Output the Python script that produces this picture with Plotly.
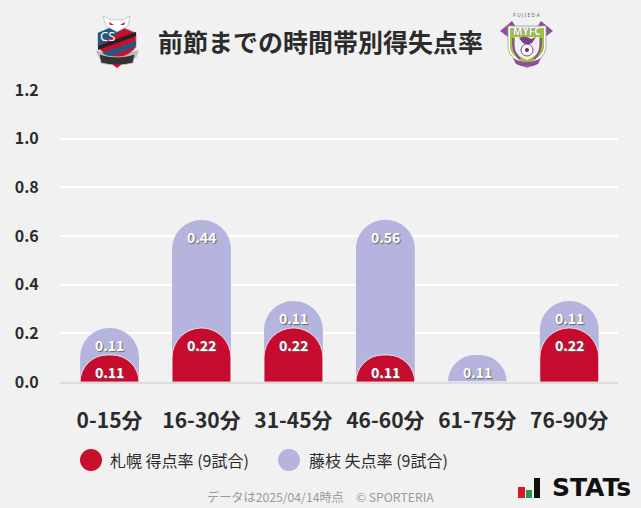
import base64
import plotly.graph_objects as go

W, H = 641, 508
FONT = "Noto Sans CJK JP"

periods = ["0-15分", "16-30分", "31-45分", "46-60分", "61-75分", "76-90分"]
sapporo_scored = [0.111, 0.222, 0.222, 0.111, 0, 0.222]
fujieda_conceded = [0.111, 0.444, 0.111, 0.556, 0.111, 0.111]
y_ticks = [0, 0.2, 0.4, 0.6, 0.8, 1.0, 1.2]
y_tick_labels = ["0.0", "0.2", "0.4", "0.6", "0.8", "1.0", "1.2"]

RED = "#c60c2e"
LILAC = "#b4b4de"
BG = "#f1f1f1"
DARK = "#2b2b2b"

# plot area in pixels
L, R, T, B = 60, 618, 90, 382


def px(x):
    return (x - L) / (R - L)


def py(y):
    return (B - y) / (B - T)


def svg_uri(body, vb):
    svg = f'<svg xmlns="http://www.w3.org/2000/svg" viewBox="{vb}">{body}</svg>'
    return "data:image/svg+xml;base64," + base64.b64encode(svg.encode()).decode()


# club crests, rough drawings
sapporo_svg = """
<path d="M96 50 Q116 58 139 50 L136 58 Q116 62 99 58 Z" fill="#bbb"/>
<path d="M98 33 L117 25 L136 33 L136 47 Q132 54 117 59 Q102 54 98 47 Z" fill="#c8102e" stroke="#999" stroke-width=".8"/>
<path d="M98 33 L117 25 L125 28 L98 47 Z" fill="#1f5a80"/>
<path d="M98 50 L98 46 L136 32 L136 36 Z" fill="#222"/>
<path d="M102 53 L136 41 L136 46 L109 57 Z" fill="#1f5a80"/>
<path d="M103 16 L112 20 Q117 19 122 20 L130 16 L128 26 L117 32 L106 26 Z" fill="#fff" stroke="#aaa" stroke-width=".6"/>
<path d="M109 22 l5 3 l-4 0 z M125 22 l-5 3 l4 0 z" fill="#c8102e"/>
<path d="M99 54 Q117 60 135 54 L133 63 Q117 67 101 63 Z" fill="#333" stroke="#ccc" stroke-width=".8"/>
<path d="M112 64 L122 64 L117 68 Z" fill="#c8102e"/>
"""
fujieda_svg = """
<path d="M500 31 L512 21 L516 27 L514 38 L508 37 Z M553 31 L541 21 L537 27 L539 38 L545 37 Z" fill="#8f4f9e"/>
<path d="M508 26 L546 26 L546 48 Q545 58 527 68 Q509 58 508 48 Z" fill="#fff" stroke="#9a9a9a" stroke-width=".8"/>
<path d="M510 28 L544 28 L544 48 Q543 56 527 65 Q511 56 510 48 Z" fill="#9ac43e"/>
<path d="M515 37 L539 37 L539 50 Q537 56 527 60 Q517 56 515 50 Z" fill="#f3eef5"/>
<path d="M513 38 Q512 52 520 59 M541 38 Q542 52 534 59" fill="none" stroke="#8f4f9e" stroke-width="2"/>
<path d="M519 38 Q526 35 531 39 L536 37 L532 43 Q526 46 522 42 Z" fill="#7b3f8c"/>
<circle cx="527" cy="50" r="6" fill="#fff" stroke="#7b3f8c" stroke-width="1"/>
<circle cx="527" cy="50" r="2" fill="#5c2d6c"/>
<path d="M513 58 Q527 66 541 58 L538 64 Q527 70 516 64 Z" fill="#8f4f9e"/>
"""

fig = go.Figure()

# bars overlap, so the lilac one is drawn to the stacked total.
# red sits on its own y axis, otherwise plotly only rounds the tallest bar
totals = [a + b for a, b in zip(sapporo_scored, fujieda_conceded)]
fig.add_trace(go.Bar(
    x=periods, y=totals, name="藤枝 失点率 (9試合)", width=0.64,
    marker=dict(color=LILAC, cornerradius=30, line=dict(width=0)),
    hoverinfo="skip",
))
fig.add_trace(go.Bar(
    x=periods, y=sapporo_scored, name="札幌 得点率 (9試合)", width=0.64, yaxis="y2",
    marker=dict(color=RED, cornerradius=30, line=dict(color="rgba(255,255,255,0.75)", width=1)),
    hoverinfo="skip",
))

annotations = []
label_font = dict(family=FONT, size=14, color="white", weight=700, shadow="1px 1px 1px #666")
for p, s, c, t in zip(periods, sapporo_scored, fujieda_conceded, totals):
    if s:
        annotations.append(dict(x=p, y=s, text=f"{s:.2f}", yanchor="top", yshift=-5,
                                showarrow=False, font=label_font))
    if c:
        annotations.append(dict(x=p, y=t, text=f"{c:.2f}", yanchor="top", yshift=-5,
                                showarrow=False, font=label_font))


def note(x, y, text, size, color=DARK, weight=400, family=FONT, xanchor="center", shadow="none"):
    annotations.append(dict(xref="paper", yref="paper", x=px(x), y=py(y), text=text,
                            showarrow=False, xanchor=xanchor, yanchor="middle",
                            font=dict(family=family, size=size, color=color, weight=weight, shadow=shadow)))


note(320.5, 41, "前節までの時間帯別得失点率", 25, weight=700)
note(108, 460, "札幌 得点率 (9試合)", 16, xanchor="left")
note(307, 460, "藤枝 失点率 (9試合)", 16, xanchor="left")
note(320.5, 497, "データは2025/04/14時点　© SPORTERIA", 12.2, color="#9a9a9a")
note(550, 488, "STATs", 25, color="#111", weight=700, family="DejaVu Sans", xanchor="left")
note(527, 15, "F U J I E D A", 5, color="#666", family="Noto Sans")
note(527, 31, "MYFC", 10, color="#fff", weight=700, family="Noto Sans", shadow="0 0 1px #7b3f8c")
note(107, 36, "CS", 13, color="#fff", family="Noto Sans")


def box(x0, y0, x1, y1, color, kind="rect"):
    return dict(type=kind, xref="paper", yref="paper", x0=px(x0), x1=px(x1), y0=py(y0), y1=py(y1),
                fillcolor=color, line=dict(width=0))


shapes = [
    box(80, 449, 102, 471, "#c8102e", "circle"),
    box(278, 449, 300, 471, LILAC, "circle"),
    box(518, 487, 525, 498, "#d7182a"),
    box(526, 490, 532, 498, "#1f9a4a"),
    box(534, 478, 540, 498, "#111111"),
]

images = [
    dict(source=svg_uri(sapporo_svg, "90 10 56 62"), xref="paper", yref="paper",
         x=px(90), y=py(10), sizex=56 / (R - L), sizey=62 / (B - T),
         xanchor="left", yanchor="top", sizing="stretch", layer="above"),
    dict(source=svg_uri(fujieda_svg, "495 10 64 62"), xref="paper", yref="paper",
         x=px(495), y=py(10), sizex=64 / (R - L), sizey=62 / (B - T),
         xanchor="left", yanchor="top", sizing="stretch", layer="above"),
]

fig.update_layout(
    width=W, height=H, autosize=False,
    margin=dict(l=L, r=W - R, t=T, b=H - B, pad=0),
    paper_bgcolor=BG, plot_bgcolor=BG,
    barmode="overlay", showlegend=False,
    annotations=annotations, shapes=shapes, images=images,
    yaxis2=dict(overlaying="y", range=[0, 1.2], visible=False),
)
fig.update_xaxes(
    type="category", range=[-0.539, 5.53], showgrid=False,
    showline=True, linecolor="#dcdcdc", linewidth=2,
    ticks="outside", ticklen=19, tickcolor=BG,
    tickfont=dict(family=FONT, size=21, color=DARK, weight=700),
)
fig.update_yaxes(
    range=[0, 1.2], tickvals=y_ticks, ticktext=y_tick_labels,
    showgrid=True, gridcolor="white", gridwidth=2, zeroline=False,
    ticks="outside", ticklen=17, tickcolor=BG,
    tickfont=dict(family=FONT, size=16, color=DARK, weight=700),
    showline=False, selector=dict(overlaying=None),
)

# the page's default body margin would shift everything by 8px
fig.write_html("out.html", config=dict(displayModeBar=False),
               post_script=f"document.body.style.margin='0';document.body.style.background='{BG}';document.body.style.overflow='hidden';")
